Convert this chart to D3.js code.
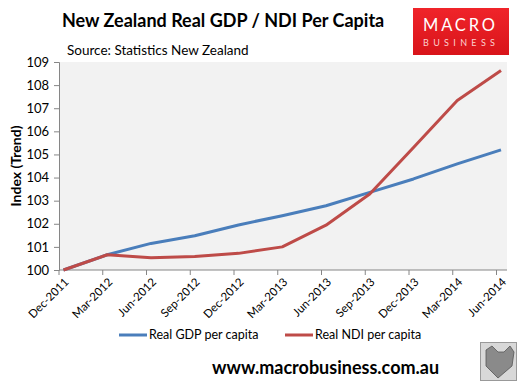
<!DOCTYPE html>
<html><head><meta charset="utf-8">
<script src="https://cdn.jsdelivr.net/npm/d3@7"></script>
<style>body{margin:0;background:#fff;} svg{display:block;} text{font-family:Lato,"Open Sans",sans-serif;}</style>
</head><body>
<svg id="c" width="526" height="389"></svg>
<script>
const categories = ["Dec-2011","Mar-2012","Jun-2012","Sep-2012","Dec-2012","Mar-2013","Jun-2013","Sep-2013","Dec-2013","Mar-2014","Jun-2014"];
const gdpValues = [100.0,100.66,101.15,101.48,101.95,102.35,102.78,103.36,103.94,104.59,105.2];
const ndiValues = [100.0,100.66,100.53,100.58,100.72,101.0,101.94,103.29,105.3,107.33,108.63];
const yTicks = [100,101,102,103,104,105,106,107,108,109];
const seriesNames = ["Real GDP per capita","Real NDI per capita"];
const colors = ["#4a7ebb","#be4b48"];

const svg = d3.select("#c");
const plot = {l:59, r:507, t:62, b:270};
const x = d3.scalePoint().domain(categories).range([63.5, 501]);
const y = d3.scaleLinear().domain([100,109]).range([plot.b, plot.t]);

svg.append("rect").attr("x",plot.l).attr("y",plot.t).attr("width",plot.r-plot.l).attr("height",plot.b-plot.t).attr("fill","#f2f2f2");

// y axis
const ya = svg.append("g").attr("transform",`translate(${plot.l},0)`)
  .call(d3.axisLeft(y).tickValues(yTicks).tickSize(5).tickPadding(5));
ya.select(".domain").attr("stroke","#868686");
ya.selectAll(".tick line").attr("stroke","#868686");
ya.selectAll(".tick text").attr("font-size",13).attr("fill","#000").attr("font-family","Lato");

// x axis
const xa = svg.append("g").attr("transform",`translate(-5,${plot.b})`)
  .call(d3.axisBottom(x).tickSize(5).tickFormat(()=>""));
xa.select(".domain").remove();
xa.selectAll(".tick line").attr("stroke","#868686");
svg.append("line").attr("x1",plot.l).attr("x2",plot.r).attr("y1",plot.b).attr("y2",plot.b).attr("stroke","#868686");
svg.append("g").selectAll("text").data(categories).join("text")
  .attr("transform",d=>`translate(${x(d)+3},${plot.b+10}) rotate(-45)`)
  .attr("text-anchor","end").attr("dy","0.35em").attr("font-size",11.5).text(d=>d);

// lines
const line = d3.line().x((d,i)=>x(categories[i])).y(d=>y(d));
[gdpValues, ndiValues].forEach((vals,k)=>{
  svg.append("path").datum(vals).attr("d",line).attr("fill","none")
    .attr("stroke",colors[k]).attr("stroke-width",3).attr("stroke-linejoin","round");
});

// y title
svg.append("text").attr("transform","translate(21,166) rotate(-90)").attr("text-anchor","middle")
  .attr("font-size",14).attr("font-weight","bold").text("Index (Trend)");

// title
svg.append("text").attr("x",62).attr("y",27).attr("font-size",18).attr("font-weight","bold").text("New Zealand Real GDP / NDI Per Capita");
svg.append("text").attr("x",67).attr("y",55).attr("font-size",13.5).text("Source: Statistics New Zealand");

// logo
const lg = svg.append("g");
const grad = svg.append("defs").append("linearGradient").attr("id","lg").attr("x1",0).attr("x2",0).attr("y1",0).attr("y2",1);
grad.append("stop").attr("offset","0").attr("stop-color","#f0242a");
grad.append("stop").attr("offset","1").attr("stop-color","#d8141a");
lg.append("rect").attr("x",413).attr("y",8).attr("width",96).attr("height",47).attr("fill","url(#lg)");
lg.append("text").attr("x",423).attr("y",31).attr("fill","#fff").attr("font-size",16.5)
  .attr("textLength",72).attr("lengthAdjust","spacing").attr("font-family","Liberation Sans").text("MACRO");
lg.append("text").attr("x",423).attr("y",45.5).attr("fill","#fbd0d0").attr("font-size",9)
  .attr("textLength",72).attr("lengthAdjust","spacing").attr("font-family","Liberation Sans").text("BUSINESS");

// legend
const legX = [119, 285];
seriesNames.forEach((n,k)=>{
  svg.append("line").attr("x1",legX[k]).attr("x2",legX[k]+28).attr("y1",335).attr("y2",335).attr("stroke",colors[k]).attr("stroke-width",3);
  svg.append("text").attr("x",legX[k]+30).attr("y",335).attr("dy","0.35em").attr("font-size",12.5).text(n);
});

// footer
svg.append("text").attr("x",212).attr("y",374).attr("font-size",18).attr("font-weight","bold").text("www.macrobusiness.com.au");
svg.append("rect").attr("x",480.5).attr("y",342.5).attr("width",36).attr("height",38).attr("fill","#d8d8d8").attr("stroke","#999");
svg.append("path").attr("d","M486,350 L492,346 L498,352 L504,352 L510,346 L514,352 L512,366 L498,378 L486,366 Z").attr("fill","#8a8a8a").attr("stroke","#555").attr("stroke-width",0.8);
</script>
</body></html>
